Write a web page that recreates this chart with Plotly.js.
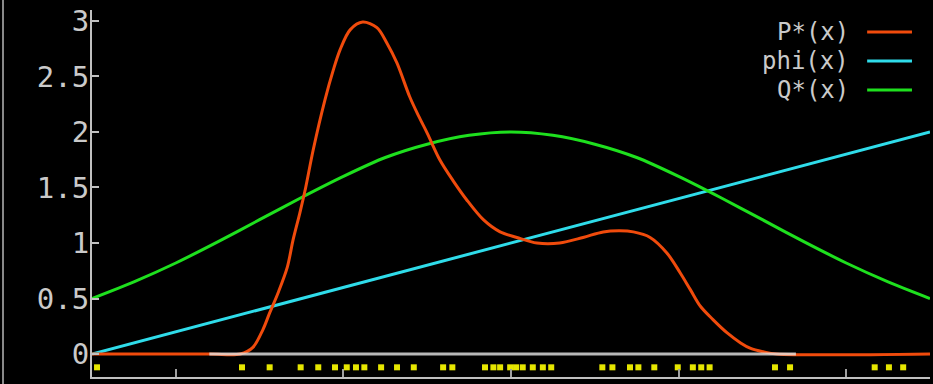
<!DOCTYPE html>
<html>
<head>
<meta charset="utf-8">
<script src="https://cdn.plot.ly/plotly-3.0.1.min.js"></script>
<style>html,body{margin:0;padding:0;background:#000;}#chart{width:933px;height:384px;}</style>
</head>
<body>
<div id="chart"></div>
<script>
// P*(x)
const pX = [-5, -3.6, -3.23, -3.08, -2.96, -2.88, -2.78, -2.67, -2.60, -2.52, -2.45, -2.36, -2.22, -2.12, -2.04, -1.92, -1.77, -1.60, -1.48, -1.36, -1.21, -1.10, -1.00, -0.85, -0.69, -0.53, -0.33, -0.13, 0.07, 0.31, 0.58, 0.86, 1.10, 1.30, 1.46, 1.66, 1.86, 2.02, 2.14, 2.26, 2.41, 2.58, 2.74, 2.86, 3.01, 3.17, 5];
const pY = [0, 0, 0, 0.06, 0.22, 0.37, 0.55, 0.78, 1.03, 1.27, 1.50, 1.84, 2.29, 2.56, 2.74, 2.92, 2.99, 2.94, 2.80, 2.62, 2.32, 2.14, 1.99, 1.75, 1.56, 1.39, 1.21, 1.10, 1.05, 1.00, 1.00, 1.05, 1.10, 1.11, 1.10, 1.05, 0.91, 0.73, 0.58, 0.43, 0.31, 0.19, 0.10, 0.05, 0.02, 0, 0];
// phi(x)
const phiX = [-5, -2.5, 0, 2.5, 5];
const phiY = [0, 0.5, 1.0, 1.5, 2.0];
// Q*(x)
const qX = [-5, -4.5, -4, -3.5, -3, -2.5, -2, -1.5, -1, -0.5, 0, 0.5, 1, 1.5, 2, 2.5, 3, 3.5, 4, 4.5, 5];
const qY = [0.50, 0.65, 0.82, 1.01, 1.21, 1.41, 1.60, 1.77, 1.89, 1.97, 2.00, 1.97, 1.89, 1.77, 1.60, 1.41, 1.21, 1.01, 0.82, 0.65, 0.50];
// white baseline segment
const baseX = [-3.6, 3.4];
const baseY = [0, 0];
// sample positions (yellow marks)
const sampleX = [-4.94, -3.21, -2.88, -2.51, -2.30, -2.10, -1.96, -1.85, -1.75, -1.55, -1.36, -1.16, -0.81, -0.70, -0.31, -0.21, -0.13, -0.01, 0.06, 0.14, 0.26, 0.38, 0.48, 1.09, 1.21, 1.42, 1.52, 1.71, 1.99, 2.17, 2.27, 2.37, 3.15, 3.33, 4.34, 4.51, 4.68];
// legend labels
const seriesNames = ["P*(x)", "phi(x)", "Q*(x)"];
const yTicks = [0, 0.5, 1, 1.5, 2, 2.5, 3];
const xTicks = [-4, -2, 0, 2, 4];

const colors = ["#f04b0c", "#2fdcea", "#1ee01e"];
const sampleRow = -0.12;

const traces = [
  {x: phiX, y: phiY, mode: "lines", line: {color: colors[1], width: 3}, name: seriesNames[1], showlegend: false, hoverinfo: "skip"},
  {x: qX, y: qY, mode: "lines", line: {color: colors[2], width: 3, shape: "spline", smoothing: 0.8}, name: seriesNames[2], showlegend: false, hoverinfo: "skip"},
  {x: pX, y: pY, mode: "lines", line: {color: colors[0], width: 3, shape: "spline", smoothing: 0.9}, name: seriesNames[0], showlegend: false, hoverinfo: "skip"},
  {x: baseX, y: baseY, mode: "lines", line: {color: "#e6e6e6", width: 3}, opacity: 0.8, showlegend: false, hoverinfo: "skip"},
  {x: sampleX, y: sampleX.map(() => sampleRow), mode: "markers", marker: {symbol: "square", size: 6, color: "#e6e600"}, showlegend: false, hoverinfo: "skip"}
];

const fontSpec = {family: "DejaVu Sans Mono, monospace", size: 29, color: "#cacaca"};
const legendFont = {family: "DejaVu Sans Mono, monospace", size: 24, color: "#cacaca"};

const legendRowsY = [0.940, 0.861, 0.782];
const annotations = seriesNames.map((n, i) => ({
  xref: "paper", yref: "paper", x: 0.9045, y: legendRowsY[i], text: n,
  xanchor: "right", yanchor: "middle", valign: "middle", borderpad: 0, showarrow: false, font: legendFont
}));
const shapes = seriesNames.map((n, i) => ({
  type: "line", xref: "paper", yref: "paper", x0: 0.925, x1: 0.9785,
  y0: legendRowsY[i], y1: legendRowsY[i], line: {color: colors[i], width: 3}
}));
shapes.push({type: "line", xref: "paper", yref: "paper", x0: -0.1062, x1: -0.1062, y0: -0.03, y1: 1.04, line: {color: "#8a8a8a", width: 2}});

const layout = {
  width: 933, height: 384,
  margin: {l: 92, r: 3, t: 10, b: 7, pad: 0},
  paper_bgcolor: "#000", plot_bgcolor: "#000",
  font: fontSpec,
  xaxis: {
    range: [-5, 5], tickvals: xTicks, showticklabels: false,
    ticks: "inside", ticklen: 8, tickwidth: 2, tickcolor: "#a0a0a0",
    showline: true, linecolor: "#c0c0c0", linewidth: 2,
    showgrid: false, zeroline: false, fixedrange: true
  },
  yaxis: {
    range: [-0.2072, 3.099], tickvals: yTicks, ticktext: yTicks.map(String),
    ticks: "inside", ticklen: 7, tickwidth: 2, tickcolor: "#c0c0c0",
    showline: true, linecolor: "#c0c0c0", linewidth: 2,
    showgrid: false, zeroline: false, tickfont: fontSpec, ticklabelstandoff: -5, fixedrange: true
  },
  annotations: annotations,
  shapes: shapes,
  showlegend: false
};

Plotly.newPlot("chart", traces, layout, {displayModeBar: false, staticPlot: true});
</script>
</body>
</html>
